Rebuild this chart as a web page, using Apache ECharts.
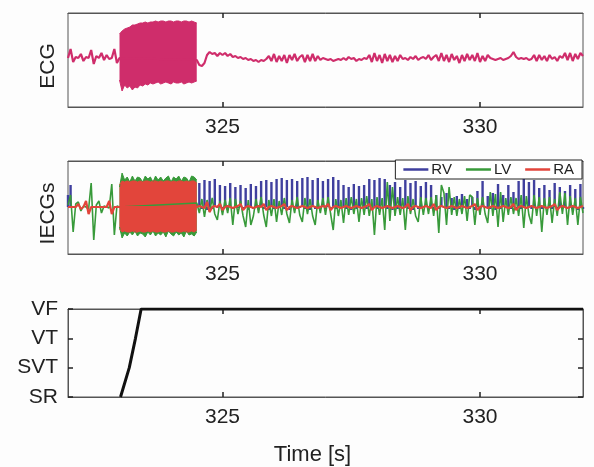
<!DOCTYPE html>
<html>
<head>
<meta charset="utf-8">
<script src="https://cdn.jsdelivr.net/npm/echarts@6/dist/echarts.min.js"></script>
<style>
  html, body { margin: 0; padding: 0; background: #fdfdfd; }
  #main { width: 594px; height: 467px; }
</style>
</head>
<body>
<div id="main"></div>
<script>
// sample period of the traces [s]
const DT = 0.05
const T_START = 322, BURST_START = 323.0, BURST_END = 324.5, T_END = 332
const xTicks = [325, 330]
const rhythmLabels = ['SR', 'SVT', 'VT', 'VF']

// ECG (before burst, burst envelope, after burst)
const ecgPre = [0, 9, -4, 1, 0, 4, -3, 1, 0, 8, -6, 2, 0, 5, -2, 3, -1, 0, 9, -5, 0]
const ecgBurstHi = [24, 27, 29, 30, 31, 33, 33, 34, 35, 35, 36, 35, 36, 36, 37, 36, 37, 37, 36, 37,
  37, 36, 37, 37, 36, 37, 37, 36, 37, 36, 35]
const ecgBurstLo = [-22, -33, -27, -30, -28, -32, -29, -30, -27, -28, -26, -27, -25, -26, -25, -24, -26, -25, -24, -25,
  -26, -24, -25, -25, -24, -26, -25, -24, -25, -24, -23]
const ecgPost = [
  -2, -7, -8, -5, 3, 6, 4, 5, 2, 5,
  3, 5, 2, 4, 1, 2, 0, 1, -1, 0,
  -2, -1, -3, -2, -4, -2, -3, -1, 2, -3,
  4, -4, 2, -3, 3, -5, 3, -2, 4, -3,
  1, 3, -4, 3, -3, 4, -3, 2, -2, 0,
  -1, -2, -1, -3, -2, -1, -2, 0, -2, 1,
  -1, 0, -3, -1, -2, 0, -1, 3, -4, 5,
  -3, 3, -5, 4, -3, 3, -4, 2, -3, 3,
  -1, 0, -2, 1, -1, 2, -2, 0, 1, -1,
  3, -2, 1, 3, -3, 5, -3, 3, -4, 4,
  -2, 2, -5, 3, -3, 4, -2, 3, -3, 5,
  -4, 2, -3, 3, 0, -1, -2, -1, 0, -2,
  -1, 0, 2, 6, 1, -1, 0, -1, 0, -2,
  -1, 3, -3, 3, -2, 2, -3, 3, -1, 1,
  -3, 2, 0, 5, -2, 5, -3, 4, -1, 5,
  2]

// intracardiac electrograms
const rvPre = [12, 22, 0, 0, 0, 0, 0, 0, 0, 0, 0, 0, 0, 0, 0, 0, 0, 0, 0, 0, 0]
const rvPost = [
  0, 24, -2, 27, -3, 26, -2, 28, -1, 22,
  -2, 21, -3, 24, -2, 20, -1, 22, -2, 19,
  -3, 23, -2, 21, -1, 26, -2, 27, -3, 25,
  -2, 28, -1, 29, -2, 27, -3, 28, -2, 26,
  -1, 29, -2, 30, -3, 27, -2, 29, -1, 26,
  -2, 28, -3, 30, -2, 27, -1, 22, -2, 20,
  -3, 23, -2, 21, -1, 22, -2, 28, -3, 27,
  -2, 29, -1, 28, -2, 22, -3, 25, -2, 20,
  -1, 27, -2, 24, -3, 26, -2, 21, -1, 25,
  -2, 22, -3, 12, -2, 10, -1, 14, -2, 9,
  -3, 11, -2, 13, -1, 8, -2, 10, -3, 16,
  -2, 26, -1, 11, -2, 14, -3, 23, -2, 12,
  -1, 22, -2, 15, -3, 26, -2, 28, -1, 25,
  -2, 27, -3, 19, -2, 22, -1, 17, -2, 24,
  -3, 20, -2, 16, -1, 22, -2, 18, -3, 23,
  -2]
const lvPre = [2, 12, -25, 3, 5, -4, 1, 0, -2, 24, -33, 2, 6, -6, 1, 0, -1, 23, -28, 1, 0]
const lvBurstHi = [20, 34, 27, 30, 25, 31, 26, 30, 29, 25, 31, 28, 30, 25, 31, 27, 30, 26, 29, 31,
  25, 30, 28, 31, 26, 30, 29, 25, 31, 30, 27]
const lvBurstLo = [-20, -31, -26, -29, -25, -28, -24, -29, -26, -27, -30, -25, -28, -24, -29, -26, -28, -25, -30, -24,
  -27, -29, -25, -28, -26, -30, -24, -28, -27, -29, -25]
const lvPost = [
  4, -6, 8, -10, 7, -5, 9, -7, -13, 6,
  -8, 7, -6, 9, -18, 8, -7, 6, -9, -20,
  7, -18, -9, 8, -6, 10, -8, -20, 7, -9,
  8, -15, 6, -8, 9, -7, -16, 7, -6, 10,
  -8, -15, 9, -7, 8, -9, -18, 7, -6, 9,
  -8, 10, -7, -23, 8, -9, 7, -16, 9, -8,
  10, -7, 8, -15, 9, -8, 11, -9, 8, -28,
  10, -8, 9, -23, 25, -14, 20, -9, 10, -8,
  9, -23, 11, -7, 8, -9, -15, 10, -8, 9,
  -7, 10, -9, 12, -26, 22, 14, -18, 20, -8,
  10, -9, 8, -7, 11, -14, 12, 10, -18, 9,
  -8, 10, -7, -16, 15, -9, 13, -20, 15, -15,
  9, -8, 10, -7, 9, -9, 12, -21, 11, -8,
  -17, 12, -9, 10, -25, 9, -8, 10, -16, 8,
  -9, 15, -7, 14, -18, 11, -8, 9, -18, 10,
  -6]
const raPre = [0, 0, 0, 0, 3, -2, 0, 6, -7, 0, 0, 0, 0, 0, 0, 0, 6, -7, 0, 0, 0]
const raBurstHi = [22, 26, 25, 26, 25, 26, 26, 25, 26, 25, 26, 26, 25, 26, 26, 25, 26, 25, 26, 26,
  25, 26, 25, 26, 26, 25, 26, 25, 26, 26, 24]
const raBurstLo = [-22, -25, -24, -25, -25, -24, -25, -25, -24, -25, -25, -24, -25, -24, -25, -25, -24, -25, -25, -24,
  -25, -25, -24, -25, -25, -24, -25, -25, -24, -25, -23]
const raPost = [
  0, 1, 0, -1, 5, -5, 0, 1, 0, 3,
  -3, 0, 1, 0, -1, 0, 1, 3, -3, 0,
  1, 0, -1, 0, 1, 0, 3, -3, 0, 1,
  0, -1, 0, 1, 3, -3, 0, 1, 0, -1,
  0, 1, 0, -1, 0, 1, 0, -1, 0, 1,
  0, 3, -3, 0, 1, 0, -1, 0, 1, 0,
  -1, 0, 1, 0, -1, 0, 1, 3, -3, 0,
  1, 0, -1, 0, 1, 0, -1, 0, 1, 0,
  -1, 0, 3, -3, 0, 1, 0, -1, 0, 1,
  0, -1, 3, -3, 0, 1, 0, -1, 0, 1,
  0, -1, 0, 1, 0, -1, 0, 1, 3, -3,
  0, 1, 0, -1, 0, 1, 0, -1, 0, 1,
  0, -1, 0, 3, -3, 0, 1, 0, -1, 0,
  1, 0, -1, 0, 1, 0, -1, 0, 1, 3,
  -3, 0, 1, 0, -1, 0, 1, 0, -1, 0,
  1]

// rhythm classification (0 = SR ... 3 = VF)
const rhythmTimes = [323.02, 323.19, 323.31, 323.42, 332]
const rhythmLevels = [0, 1, 2, 3, 3]

const C_ECG = '#cf2d6b', C_RV = '#3f3f9e', C_LV = '#389a3a', C_RA = '#e2453b'
const FONT = 'Liberation Sans'
const FS = 21

function pairs(start, values) {
  return values.map((v, i) => [+(start + i * DT).toFixed(3), v])
}
function trace(pre, post) {
  return pairs(T_START, pre).concat(pairs(BURST_END, post))
}
function lineSeries(name, color, data, axis, width) {
  return {
    name, type: 'line', xAxisIndex: axis * 2, yAxisIndex: axis,
    data, symbol: 'none', animation: false,
    lineStyle: { color, width }, itemStyle: { color }
  }
}
// RV deflections drawn as thin strokes from the baseline
function spikeSeries(name, color, data) {
  return {
    name, type: 'bar', xAxisIndex: 2, yAxisIndex: 1,
    data, barWidth: 2.4, animation: false,
    itemStyle: { color }
  }
}
function bandSeries(name, color, values, axis) {
  return {
    name, type: 'line', xAxisIndex: axis * 2, yAxisIndex: axis,
    data: pairs(BURST_START, values), symbol: 'none', animation: false,
    lineStyle: { color, width: 1 }, itemStyle: { color },
    areaStyle: { color, opacity: 1 }
  }
}

const grids = [
  { left: 68, right: 11, top: 13, height: 94 },
  { left: 68, right: 11, top: 161, height: 93 },
  { left: 68, right: 11, top: 309, height: 91 }
].map(g => Object.assign(g, { show: true, borderColor: '#555', borderWidth: 1, backgroundColor: 'transparent' }))

const tickStyle = { show: true, inside: true, length: 5, lineStyle: { color: '#222', width: 1.5 } }

const xAxes = []
for (let g = 0; g < 3; g++) {
  ['bottom', 'top'].forEach(pos => {
    xAxes.push({
      type: 'value', gridIndex: g, position: pos, min: T_START, max: T_END,
      axisLine: { show: true, onZero: false, lineStyle: { color: '#555', width: 1 } },
      splitLine: { show: false },
      axisTick: Object.assign({ customValues: xTicks }, tickStyle),
      axisLabel: {
        show: pos === 'bottom', customValues: xTicks, margin: 10,
        fontSize: FS, fontFamily: FONT, color: '#222'
      },
      name: (g === 2 && pos === 'bottom') ? 'Time [s]' : '',
      nameLocation: 'middle', nameGap: 47,
      nameTextStyle: { fontSize: 22, fontFamily: FONT, color: '#222', padding: [0, 26, 0, 0] }
    })
  })
}

function signalY(g, name, min, max) {
  return {
    type: 'value', gridIndex: g, min, max,
    axisLine: { show: false }, axisTick: { show: false },
    axisLabel: { show: false }, splitLine: { show: false },
    name, nameLocation: 'middle', nameRotate: 90, nameGap: 9,
    nameTextStyle: { fontSize: FS, fontFamily: FONT, color: '#222', padding: [0, 12, 0, 0] }
  }
}
const yAxes = [
  signalY(0, 'ECG', -49, 45),
  signalY(1, 'IECGs', -47, 46),
  {
    type: 'value', gridIndex: 2, min: 0, max: 3, interval: 1,
    axisLine: { show: true, lineStyle: { color: '#555', width: 1 } }, splitLine: { show: false },
    axisTick: tickStyle,
    axisLabel: {
      margin: 10, fontSize: FS, fontFamily: FONT, color: '#222',
      formatter: v => rhythmLabels[v]
    }
  },
  {
    type: 'value', gridIndex: 2, position: 'right', min: 0, max: 3, interval: 1,
    axisLine: { show: true, lineStyle: { color: '#555', width: 1 } }, splitLine: { show: false },
    axisTick: tickStyle,
    axisLabel: { show: false }
  }
]

const series = [
  lineSeries('ECG', C_ECG, trace(ecgPre, ecgPost), 0, 2.2),
  bandSeries('ECG hi', C_ECG, ecgBurstHi, 0),
  bandSeries('ECG lo', C_ECG, ecgBurstLo, 0),
  spikeSeries('RV', C_RV, trace(rvPre, rvPost)),
  lineSeries('LV', C_LV, trace(lvPre, lvPost), 1, 1.6),
  bandSeries('LV hi', C_LV, lvBurstHi, 1),
  bandSeries('LV lo', C_LV, lvBurstLo, 1),
  bandSeries('RA hi', C_RA, raBurstHi, 1),
  bandSeries('RA lo', C_RA, raBurstLo, 1),
  lineSeries('RA', C_RA, trace(raPre, raPost), 1, 2.2),
  {
    name: 'rhythm', type: 'line', xAxisIndex: 4, yAxisIndex: 2,
    data: rhythmTimes.map((t, i) => [t, rhythmLevels[i]]),
    symbol: 'none', animation: false, lineStyle: { color: '#111', width: 3 }
  }
]

let option = {
  backgroundColor: '#fdfdfd',
  animation: false,
  grid: grids,
  xAxis: xAxes,
  yAxis: yAxes,
  legend: {
    data: ['RV', 'LV', 'RA'],
    right: 12, top: 160,
    icon: 'rect',
    itemWidth: 25, itemHeight: 2.5, itemGap: 14,
    padding: [2, 8],
    borderColor: '#222', borderWidth: 1, borderRadius: 0,
    backgroundColor: '#fff',
    selectedMode: false,
    textStyle: { fontSize: 15, fontFamily: FONT, color: '#222', padding: [0, 0, 0, -2] }
  },
  series
}

let myChart = echarts.init(document.getElementById('main'))
myChart.setOption(option)
</script>
</body>
</html>
